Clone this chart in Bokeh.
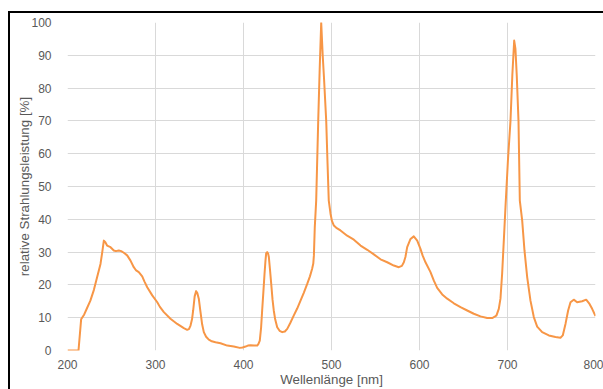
from bokeh.plotting import figure
from bokeh.models import FixedTicker
from bokeh.embed import file_html
from bokeh.resources import INLINE

# Data (wavelength in nm, relative radiant power in %)
wavelength = [200, 212.5, 215.5, 219, 222, 226, 230, 233.7, 237.5, 239.5, 241.3, 243, 245, 248.9,
              252.6, 255, 258.3, 261, 264, 267.8, 271.6, 275.3, 278, 281, 284.9, 287.5, 290.6,
              296.3, 302, 305, 309.5, 317, 324.7, 332.2, 336, 338, 339.8, 341.5, 342.8, 344.5,
              346.2, 347.5, 349.2, 351, 353, 354.9, 357.5, 360.6, 364, 368.2, 373.9, 381.5, 389,
              395.8, 399, 402.3, 405, 408, 412, 415.6, 417, 418.5, 420, 421.2, 422.5, 423.9, 425,
              425.8, 426.9, 428, 428.8, 430, 431.5, 433, 434.4, 436, 438.3, 441, 444, 447, 449.7,
              453, 457.2, 461, 464.8, 468.5, 472.4, 475.5, 478, 479.3, 480, 481, 482.6, 484.9,
              486.6, 488.3, 490, 491.5, 494, 495.5, 496.9, 498.9, 500.5, 502.7, 506, 510.2, 517.8,
              525.4, 533, 540.6, 548.1, 555.7, 563.3, 570.8, 576.5, 580, 582.2, 584, 586, 589.8,
              593.5, 597.4, 601.1, 603.5, 606.8, 612.5, 616.3, 620.1, 625.8, 631.5, 639, 646.6,
              654.2, 661.7, 669.3, 676.9, 682.6, 685.5, 687.5, 690.1, 692, 693.9, 695.8, 697.7,
              700.5, 703.4, 705.5, 707.6, 709, 710.5, 712.5, 714, 716.7, 719.3, 722.4, 726.1,
              729.9, 733.7, 739.4, 747, 754.5, 760.2, 762.8, 765.9, 768.9, 771.6, 775.3, 779.1,
              784.8, 789.4, 793.2, 796.2, 800]
power = [0, 0, 9.5, 11, 12.8, 15.2, 18.5, 22.4, 26.4, 30, 33.5, 33, 32, 31.5,
         30.5, 30.3, 30.5, 30.3, 29.8, 29, 27.4, 25.4, 24.4, 23.9, 22.6, 21, 19.3,
         16.8, 14.7, 13.3, 11.7, 9.7, 8.1, 6.8, 6.3, 6.5, 7.6, 9.5, 12.2, 16.5,
         18.1, 17.5, 15.8, 12, 8, 5.6, 4.2, 3.3, 2.8, 2.5, 2.2, 1.5, 1.2,
         0.8, 0.9, 1.2, 1.5, 1.6, 1.5, 1.5, 2, 3, 7, 12.2, 17.5, 23.4, 27.5,
         29.7, 30, 29.5, 28.5, 25, 20.3, 15.5, 12.2, 9.5, 7.1, 6, 5.6, 5.8, 6.6,
         8.3, 10.7, 12.8, 15.2, 17.6, 20.3, 22.6, 24.9, 26.5, 29, 37.6, 45.7, 70,
         86, 100, 90, 83, 70, 57, 45.7, 41.7, 39.5, 38.1, 37.3, 36.6, 35,
         33.8, 32, 30.7, 29.3, 27.8, 26.9, 25.9, 25.4, 25.8, 26.9, 28.5, 31.5, 34,
         34.8, 33.5, 31, 29, 26.9, 23.9, 21.3, 19.1, 17.1, 15.8, 14.4, 13.2,
         12.2, 11.2, 10.4, 9.9, 9.9, 10.3, 10.7, 12.7, 15.8, 23.4, 33.5, 43.7,
         58, 70, 84, 94.5, 92, 84, 70, 45.7, 39.6, 30.5, 22.3, 15.2,
         10.2, 7.3, 5.6, 4.6, 4.1, 3.9, 4.6, 8.1, 12.2, 14.7, 15.5, 14.7,
         15, 15.5, 14.2, 12.7, 10.5]

x_ticks = [200, 300, 400, 500, 600, 700, 800]
y_ticks = [0, 10, 20, 30, 40, 50, 60, 70, 80, 90, 100]
x_title = "Wellenlänge [nm]"
y_title = "relative Strahlungsleistung [%]"

FONT = "Liberation Sans"
GREY = "#595959"

p = figure(width=603, height=389, x_range=(200, 800), y_range=(0, 100),
           output_backend="svg", toolbar_location=None,
           min_border_left=67, min_border_right=8, min_border_top=22, min_border_bottom=39)
# thin black frame lines at the top and left (as in the reference picture)
p.styles = {"box-shadow": "inset 0 11px 0 0 #fff, inset 8px 0 0 0 #fff, "
                          "inset 0 13px 0 0 #000, inset 10px 0 0 0 #000",
            "background-color": "#fff"}
p.outline_line_color = None
p.background_fill_color = "white"
p.border_fill_color = None

for ax in (p.xaxis, p.yaxis):
    ax.axis_line_color = None
    ax.major_tick_line_color = None
    ax.minor_tick_line_color = None
    ax.major_label_text_font = FONT
    ax.major_label_text_font_size = "12px"
    ax.major_label_text_color = GREY
    ax.axis_label_text_font = FONT
    ax.axis_label_text_font_size = "13.33px"
    ax.axis_label_text_font_style = "normal"
    ax.axis_label_text_color = GREY

p.xaxis.ticker = FixedTicker(ticks=x_ticks)
p.yaxis.ticker = FixedTicker(ticks=y_ticks)
p.xaxis.major_label_standoff = 3
p.yaxis.major_label_standoff = 10

p.xaxis.axis_label = x_title
p.xaxis.axis_label_standoff = 0
p.yaxis.axis_label = y_title
p.yaxis.axis_label_standoff = -4

p.xgrid.ticker = FixedTicker(ticks=x_ticks)
p.ygrid.ticker = FixedTicker(ticks=y_ticks)
p.grid.grid_line_color = "#d9d9d9"
p.grid.grid_line_width = 1

p.line(wavelength, power, line_color="#F79646", line_width=2, line_join="round")

open("out.html", "w").write(file_html(p, INLINE))
